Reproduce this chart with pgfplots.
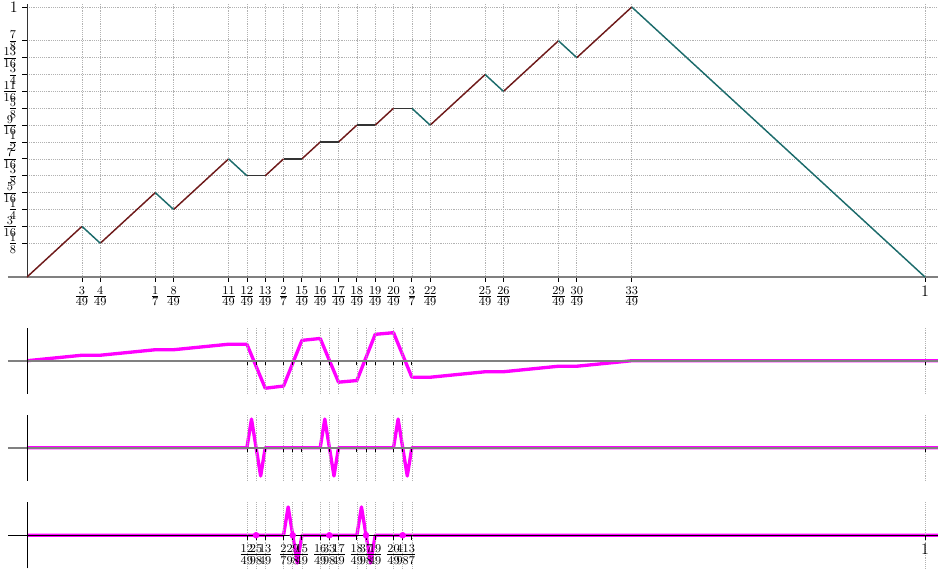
\documentclass[border=0pt]{standalone}
\usepackage{pgfplots}
\pgfplotsset{compat=1.18}
\definecolor{upc}{HTML}{6E1A1A}
\definecolor{downc}{HTML}{1C6B6B}
\definecolor{flatc}{HTML}{333333}
\definecolor{magc}{RGB}{255,0,255}
\begin{document}
\begin{tikzpicture}
\pgfplotsset{
  every tick label/.append style={font=\fontsize{12.5}{14}\selectfont},
  strip/.style={
    scale only axis, width=683.25pt, height=49.5pt,
    xmin=0, xmax=1.0145, ymin=-6, ymax=6,
    axis x line*=middle, axis y line*=left,
    x axis line style={gray, line width=1.5pt, shorten <=-14.25pt},
    y axis line style={black, line width=0.6pt},
    xtick={0.244898,0.255102,0.265306,0.285714,0.295918,0.306122,0.326531,0.336735,0.346939,0.367347,0.377551,0.387755,0.408163,0.418367,0.428571,1},
    xticklabel=\empty, ytick=\empty,
    tick align=outside, major tick length=3.5pt,
    tick style={black, line width=0.6pt},
    xmajorgrids, grid style={densely dotted, gray!60, line width=0.5pt},
    axis on top,
  },
  mag/.style={magc, line width=2.5pt, line join=round},
}
% main function
\begin{axis}[
  at={(20.25pt,221.25pt)}, anchor=south west,
  scale only axis, width=683.25pt, height=204.5pt,
  xmin=0, xmax=1.0145, ymin=0, ymax=1.01,
  axis lines*=left,
  x axis line style={gray, line width=1.5pt, shorten <=-14.25pt},
  y axis line style={black!80, line width=0.6pt},
  xtick={0.061224,0.081633,0.142857,0.163265,0.224490,0.244898,0.265306,0.285714,0.306122,0.326531,0.346939,0.367347,0.387755,0.408163,0.428571,0.448980,0.510204,0.530612,0.591837,0.612245,0.673469,1},
  xticklabels={$\frac{3}{49}$,$\frac{4}{49}$,$\frac{1}{7}$,$\frac{8}{49}$,$\frac{11}{49}$,$\frac{12}{49}$,$\frac{13}{49}$,$\frac{2}{7}$,$\frac{15}{49}$,$\frac{16}{49}$,$\frac{17}{49}$,$\frac{18}{49}$,$\frac{19}{49}$,$\frac{20}{49}$,$\frac{3}{7}$,$\frac{22}{49}$,$\frac{25}{49}$,$\frac{26}{49}$,$\frac{29}{49}$,$\frac{30}{49}$,$\frac{33}{49}$,$1$},
  ytick={0.125,0.1875,0.25,0.3125,0.375,0.4375,0.5,0.5625,0.625,0.6875,0.75,0.8125,0.875,1},
  yticklabels={$\frac{1}{8}$,$\frac{3}{16}$,$\frac{1}{4}$,$\frac{5}{16}$,$\frac{3}{8}$,$\frac{7}{16}$,$\frac{1}{2}$,$\frac{9}{16}$,$\frac{5}{8}$,$\frac{11}{16}$,$\frac{3}{4}$,$\frac{13}{16}$,$\frac{7}{8}$,$1$},
  tick align=outside, major tick length=3.5pt,
  tick style={black, line width=0.6pt},
  grid=major, grid style={densely dotted, gray!60, line width=0.5pt},
  unbounded coords=jump,
]
% rising pieces
\addplot[upc, line width=1.1pt] coordinates {
  (0,0) (0.061224,0.1875) (0.07,nan)
  (0.081633,0.125) (0.142857,0.3125) (0.15,nan)
  (0.163265,0.25) (0.224490,0.4375) (0.23,nan)
  (0.265306,0.375) (0.285714,0.4375) (0.29,nan)
  (0.306122,0.4375) (0.326531,0.5) (0.33,nan)
  (0.346939,0.5) (0.367347,0.5625) (0.37,nan)
  (0.387755,0.5625) (0.408163,0.625) (0.41,nan)
  (0.448980,0.5625) (0.510204,0.75) (0.52,nan)
  (0.530612,0.6875) (0.591837,0.875) (0.60,nan)
  (0.612245,0.8125) (0.673469,1)
};
% falling pieces
\addplot[downc, line width=1.1pt] coordinates {
  (0.061224,0.1875) (0.081633,0.125) (0.09,nan)
  (0.142857,0.3125) (0.163265,0.25) (0.17,nan)
  (0.224490,0.4375) (0.244898,0.375) (0.25,nan)
  (0.428571,0.625) (0.448980,0.5625) (0.46,nan)
  (0.510204,0.75) (0.530612,0.6875) (0.54,nan)
  (0.591837,0.875) (0.612245,0.8125) (0.62,nan)
  (0.673469,1) (1,0)
};
% flat pieces
\addplot[flatc, line width=1.1pt] coordinates {
  (0.244898,0.375) (0.265306,0.375) (0.27,nan)
  (0.285714,0.4375) (0.306122,0.4375) (0.31,nan)
  (0.326531,0.5) (0.346939,0.5) (0.35,nan)
  (0.367347,0.5625) (0.387755,0.5625) (0.39,nan)
  (0.408163,0.625) (0.428571,0.625)
};
\end{axis}
% first detail
\begin{axis}[strip, at={(20.25pt,133.7pt)}, anchor=south west]
\addplot[mag] coordinates {
  (0,0) (0.061224,1) (0.081633,1) (0.142857,2) (0.163265,2) (0.224490,3)
  (0.244898,3) (0.265306,-5) (0.285714,-4.6) (0.306122,3.7) (0.326531,4.05)
  (0.346939,-3.9) (0.367347,-3.6) (0.387755,4.8) (0.408163,5.1) (0.428571,-3)
  (0.448980,-3) (0.510204,-2) (0.530612,-2) (0.591837,-1) (0.612245,-1)
  (0.673469,0) (1.0145,0)
};
\end{axis}
% second detail
\begin{axis}[strip, at={(20.25pt,68.5pt)}, anchor=south west]
\addplot[mag] coordinates {
  (0,0) (0.244898,0) (0.25,5.2) (0.260204,-5.15) (0.265306,0)
  (0.326531,0) (0.331633,5.2) (0.341837,-5.15) (0.346939,0)
  (0.408163,0) (0.413265,5.2) (0.423469,-5.15) (0.428571,0) (1.0145,0)
};
\end{axis}
% third detail
\begin{axis}[strip, at={(20.25pt,2.8pt)}, anchor=south west,
  x axis line style={black, line width=1.1pt},
  xticklabels={$\frac{12}{49}$,$\frac{25}{98}$,$\frac{13}{49}$,$\frac{2}{7}$,$\frac{29}{98}$,$\frac{15}{49}$,$\frac{16}{49}$,$\frac{33}{98}$,$\frac{17}{49}$,$\frac{18}{49}$,$\frac{37}{98}$,$\frac{19}{49}$,$\frac{20}{49}$,$\frac{41}{98}$,$\frac{3}{7}$,$1$},
]
\addplot[mag] coordinates {
  (0,0) (0.285714,0) (0.290816,5.15) (0.301020,-5.05) (0.306122,0)
  (0.367347,0) (0.372449,5.15) (0.382653,-5.05) (0.387755,0) (1.0145,0)
};
\addplot[only marks, mark=*, mark size=2.2pt, magc] coordinates {
  (0.255102,0) (0.295918,0) (0.336735,0) (0.377551,0) (0.418367,0)
};
\end{axis}
\pgfresetboundingbox
\path[use as bounding box] (0,0) rectangle (703.5pt,429pt);
\end{tikzpicture}
\end{document}
